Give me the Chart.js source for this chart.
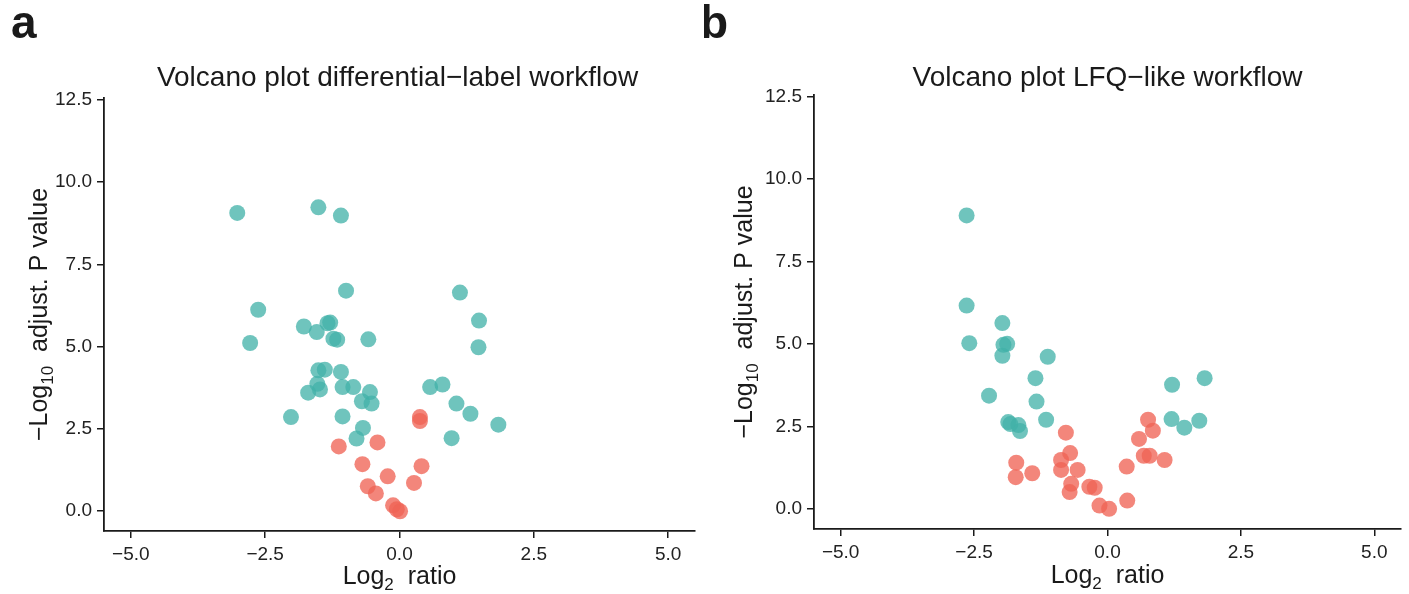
<!DOCTYPE html>
<html><head><meta charset="utf-8">
<script src="https://cdn.jsdelivr.net/npm/chart.js@4.4.1/dist/chart.umd.min.js"></script>
<style>
html,body{margin:0;padding:0;background:#fff;}
body{width:1409px;height:594px;overflow:hidden;position:relative;}
.p{position:absolute;top:0;}
</style></head>
<body>
<div class="p" style="left:0"><canvas id="c1" width="704" height="594"></canvas></div>
<div class="p" style="left:704px"><canvas id="c2" width="705" height="594"></canvas></div>
<script>
// ---- tick labels / axis values ----
const xTicks = [-5, -2.5, 0, 2.5, 5];
const yTicks = [0, 2.5, 5, 7.5, 10, 12.5];

// ---- panel a: differential-label workflow ----
const aSigX = [-3.02,-1.51,-1.09,-0.995,1.125,-2.63,1.48,-1.78,-1.54,-1.34,-1.29,-1.23,-1.16,-0.58,-2.78,1.47,-1.51,-1.39,-1.09,-1.53,-1.48,-1.70,-1.06,-0.86,-0.55,-0.70,-0.52,0.57,0.80,1.06,1.32,1.84,-2.02,-1.06,-0.68,-0.80,0.97];
const aSigY = [9.06,9.23,8.98,6.70,6.64,6.12,5.79,5.61,5.44,5.71,5.73,5.24,5.21,5.22,5.11,4.98,4.28,4.30,4.23,3.87,3.70,3.60,3.77,3.77,3.62,3.34,3.27,3.77,3.85,3.27,2.96,2.63,2.86,2.88,2.53,2.21,2.22];
const aNsX = [0.38,0.38,-1.13,-0.41,-0.69,-0.22,0.41,0.27,-0.59,-0.44,-0.12,0.01,-0.05];
const aNsY = [2.86,2.74,1.97,2.09,1.43,1.06,1.37,0.86,0.76,0.54,0.18,0.00,0.06];

// ---- panel b: LFQ-like workflow ----
const bSigX = [-2.64,-2.64,-1.97,-2.59,-1.88,-1.95,-1.97,-1.12,-1.35,-2.22,-1.33,-1.86,-1.67,-1.64,-1.15,1.21,1.82,1.20,1.44,1.72,-1.82];
const bSigY = [8.90,6.17,5.64,5.03,5.01,4.98,4.65,4.62,3.97,3.44,3.26,2.64,2.55,2.37,2.71,3.77,3.97,2.73,2.47,2.68,2.58];
const bNsX = [-0.78,-1.71,-1.72,-1.41,-0.70,-0.87,-0.87,-0.56,-0.68,-0.71,-0.34,-0.24,-0.15,0.03,0.37,0.36,0.59,0.76,0.85,0.68,0.79,1.07];
const bNsY = [2.32,1.41,0.97,1.09,1.70,1.49,1.19,1.19,0.77,0.52,0.68,0.65,0.11,0.01,0.26,1.29,2.13,2.71,2.38,1.62,1.62,1.49];

const TEAL = 'rgba(66,178,168,0.76)';
const RED = 'rgba(240,100,86,0.78)';
const FONT = '"Liberation Sans", Arial, Helvetica, sans-serif';
const INK = '#1a1a1a';

function pts(xs, ys){ return xs.map((v,i)=>({x:v, y:ys[i]})); }
function fmt(v){ return Number(v).toFixed(1).replace('-', '\u2212'); }

function drawRich(ctx, segs, size, cx, baseY){
  const subSize = Math.round(size*0.68);
  let w = 0;
  segs.forEach(s=>{ ctx.font = (s.sub?subSize:size)+'px '+FONT; s.w = ctx.measureText(s.t).width; w += s.w; });
  let x = cx - w/2;
  ctx.textAlign = 'left'; ctx.textBaseline = 'alphabetic';
  segs.forEach(s=>{
    ctx.font = (s.sub?subSize:size)+'px '+FONT;
    ctx.fillText(s.t, x, baseY + (s.sub ? size*0.25 : 0));
    x += s.w;
  });
}

const textPlugin = {
  id: 'panelTexts',
  afterDraw(chart){
    const c = chart.options.plugins.panelTexts;
    const ctx = chart.ctx, a = chart.chartArea;
    const cx = (a.left + a.right)/2, cy = (a.top + a.bottom)/2;
    ctx.save();
    ctx.fillStyle = INK;
    ctx.font = 'bold 46px ' + FONT;
    ctx.textAlign = 'left'; ctx.textBaseline = 'alphabetic';
    ctx.fillText(c.letter, c.letterX, c.letterY);
    ctx.font = c.titleSize + 'px ' + FONT;
    ctx.textAlign = 'center';
    ctx.fillText(c.title, cx + c.titleDx, c.titleY);
    drawRich(ctx, [{t:'Log'},{t:'2',sub:true},{t:'  ratio'}], c.axisSize, cx, c.xTitleY);
    ctx.translate(c.yTitleX, cy);
    ctx.rotate(-Math.PI/2);
    drawRich(ctx, [{t:'\u2212Log'},{t:'10',sub:true},{t:'  adjust. P value'}], c.axisSize, 0, 0);
    ctx.restore();
  }
};

function axis(ticksArr, min, max, fit){
  return {
    type: 'linear', min: min, max: max,
    afterBuildTicks: s => { s.ticks = ticksArr.map(v => ({value: v})); },
    afterFit: fit,
    grid: { display: true, drawOnChartArea: false, drawTicks: true, tickLength: 7, color: INK, lineWidth: 1.5 },
    border: { display: true, color: INK, width: 1.8 },
    ticks: { font: { family: FONT, size: 19 }, color: '#222', padding: 5, autoSkip: false, maxRotation: 0, callback: fmt }
  };
}

function build(id, sig, ns, cfg){
  return new Chart(document.getElementById(id), {
    type: 'scatter',
    data: { datasets: [
      { data: pts(sig[0], sig[1]), backgroundColor: TEAL, borderWidth: 0, pointRadius: 8, pointHoverRadius: 8 },
      { data: pts(ns[0], ns[1]), backgroundColor: RED, borderWidth: 0, pointRadius: 8, pointHoverRadius: 8 }
    ]},
    options: {
      responsive: false, animation: false, devicePixelRatio: 1,
      layout: { padding: { top: cfg.top, right: cfg.right, left: 0, bottom: 0 } },
      plugins: { legend: { display: false }, tooltip: { enabled: false }, title: { display: false }, panelTexts: cfg.texts },
      scales: {
        x: axis(xTicks, -5.5, 5.5, s => { s.height = cfg.xH; }),
        y: axis(yTicks, -0.6, 12.55, s => { s.width = cfg.yW; })
      }
    },
    plugins: [textPlugin]
  });
}

build('c1', [aSigX, aSigY], [aNsX, aNsY], {
  top: 98, right: 9, xH: 63, yW: 104,
  texts: { letter: 'a', letterX: 11, letterY: 38, title: 'Volcano plot differential\u2212label workflow', titleSize: 28, titleDx: -2, titleY: 86, axisSize: 25, xTitleY: 584, yTitleX: 47 }
});
build('c2', [bSigX, bSigY], [bNsX, bNsY], {
  top: 95, right: 4, xH: 65, yW: 110,
  texts: { letter: 'b', letterX: -4, letterY: 38, title: 'Volcano plot LFQ\u2212like workflow', titleSize: 28, titleDx: 0, titleY: 86, axisSize: 25, xTitleY: 583, yTitleX: 48 }
});
</script>
</body></html>
